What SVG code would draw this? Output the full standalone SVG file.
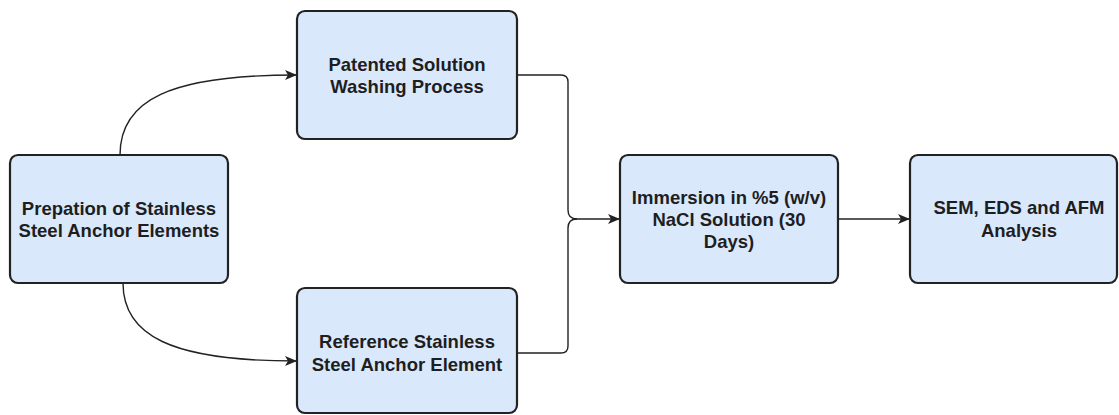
<svg xmlns="http://www.w3.org/2000/svg" width="1119" height="415" viewBox="0 0 1119 415">
<style>
.box{fill:#dae8fc;stroke:#222;stroke-width:2.2}
.t{font-family:"Liberation Sans",Arial,sans-serif;font-weight:bold;font-size:18.5px;fill:#1e1e1e;text-anchor:middle}
.c{fill:none;stroke:#222;stroke-width:1.4}
</style>
<defs>
<marker id="ah" markerWidth="12" markerHeight="10" refX="11" refY="5" orient="auto" markerUnits="userSpaceOnUse">
<path d="M0,0 L12,5 L0,10 L3,5 Z" fill="#222"/>
</marker>
</defs>
<rect width="1119" height="415" fill="#fff"/>
<g id="connectors">
<path class="c" d="M120,155 C120,100 170,75 296,75" marker-end="url(#ah)"/>
<path class="c" d="M123,283 C123,335 170,361 296,361" marker-end="url(#ah)"/>
<path class="c" d="M517,75 H561 Q568,75 568,82 V210 Q568,219 577,219 H619" marker-end="url(#ah)"/>
<path class="c" d="M517,353 H561 Q568,353 568,346 V228 Q568,219 577,219"/>
<path class="c" d="M838,219 H909" marker-end="url(#ah)"/>
</g>
<g id="n1">
<rect class="box" x="10" y="155" width="218" height="128" rx="8"/>
<text class="t" x="119" y="215">Prepation of Stainless</text>
<text class="t" x="119" y="237">Steel Anchor Elements</text>
</g>
<g id="n2">
<rect class="box" x="297" y="11" width="220" height="128" rx="8"/>
<text class="t" x="407" y="71">Patented Solution</text>
<text class="t" x="407" y="93">Washing Process</text>
</g>
<g id="n3">
<rect class="box" x="297" y="288" width="220" height="125" rx="8"/>
<text class="t" x="407" y="348">Reference Stainless</text>
<text class="t" x="407" y="371">Steel Anchor Element</text>
</g>
<g id="n4">
<rect class="box" x="620" y="155" width="218" height="128" rx="8"/>
<text class="t" x="729" y="204">Immersion in %5 (w/v)</text>
<text class="t" x="729" y="226">NaCl Solution (30</text>
<text class="t" x="729" y="248">Days)</text>
</g>
<g id="n5">
<rect class="box" x="910" y="155" width="207" height="128" rx="8"/>
<text class="t" x="1019" y="214">SEM, EDS and AFM</text>
<text class="t" x="1019" y="237">Analysis</text>
</g>
</svg>
